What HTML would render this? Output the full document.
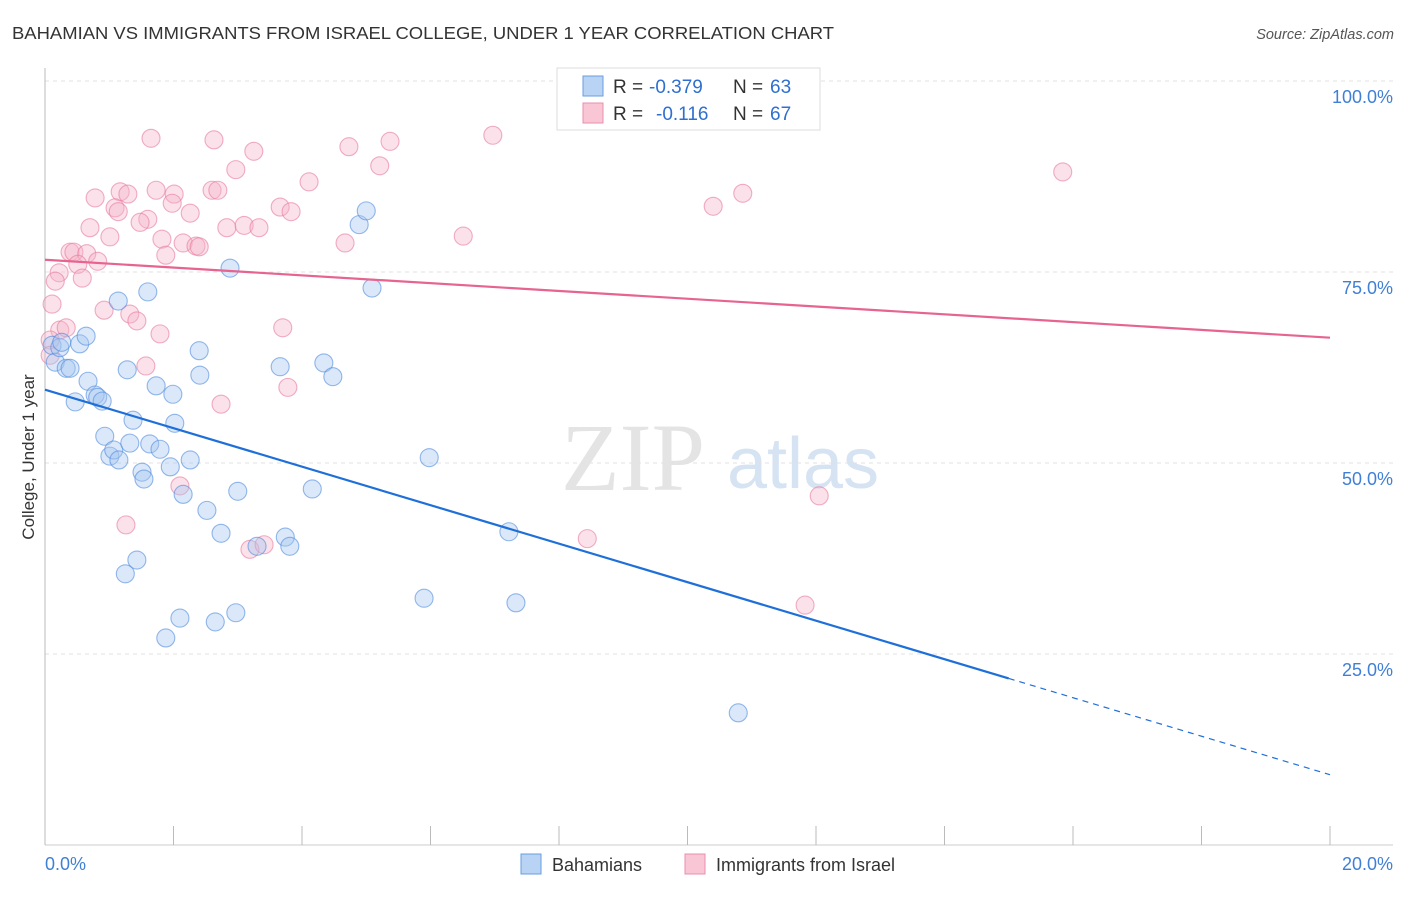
<!DOCTYPE html>
<html><head><meta charset="utf-8"><style>
body{margin:0;background:#fff;font-family:"Liberation Sans",sans-serif;}
</style></head><body>
<svg id="chart" width="1406" height="892" xmlns="http://www.w3.org/2000/svg" font-family="Liberation Sans, sans-serif">
<text x="12" y="39" font-size="17.5" fill="#333" textLength="822" lengthAdjust="spacingAndGlyphs">BAHAMIAN VS IMMIGRANTS FROM ISRAEL COLLEGE, UNDER 1 YEAR CORRELATION CHART</text>
<text x="1394" y="39" font-size="14.5" fill="#555" text-anchor="end" font-style="italic">Source: ZipAtlas.com</text>
<g>
<text x="633" y="490" font-size="96" fill="#e4e4e4" text-anchor="middle" font-family="Liberation Serif, serif">ZIP</text>
<text x="803" y="488" font-size="72" fill="#d6e3f3" text-anchor="middle">atlas</text>
</g>
<g id="grid"></g><g id="axes"></g><g id="pts"></g><g id="lines"></g>
<g>
<rect x="557" y="68" width="263" height="62" fill="#fff" stroke="#ddd"/>
<rect x="583" y="76" width="20" height="20" fill="#b8d3f3" stroke="#6a9ee0"/>
<text x="613" y="93" font-size="19" fill="#333">R =</text>
<text x="649" y="93" font-size="19" fill="#2f6fd0">-0.379</text>
<text x="733" y="93" font-size="19" fill="#333">N =</text>
<text x="770" y="93" font-size="19" fill="#2f6fd0">63</text>
<rect x="583" y="103" width="20" height="20" fill="#f8c6d5" stroke="#ea8eac"/>
<text x="613" y="120" font-size="19" fill="#333">R =</text>
<text x="656" y="120" font-size="19" fill="#2f6fd0">-0.116</text>
<text x="733" y="120" font-size="19" fill="#333">N =</text>
<text x="770" y="120" font-size="19" fill="#2f6fd0">67</text>
</g>
<g>
<rect x="521" y="854" width="20" height="20" fill="#b8d3f3" stroke="#6a9ee0"/>
<text x="552" y="871" font-size="18" fill="#333">Bahamians</text>
<rect x="685" y="854" width="20" height="20" fill="#f8c6d5" stroke="#ea8eac"/>
<text x="716" y="871" font-size="18" fill="#333">Immigrants from Israel</text>
</g>
<text transform="translate(34,457) rotate(-90)" font-size="17" fill="#333" text-anchor="middle">College, Under 1 year</text>
</svg>
<script>
const blueX=[0.11,0.16,0.23,0.26,0.33,0.39,0.47,0.54,0.64,0.67,0.78,0.82,0.89,0.93,1.01,1.07,1.14,1.15,1.28,1.32,1.37,1.43,1.25,1.51,1.54,1.60,1.63,1.73,1.79,1.88,1.95,1.99,2.02,2.10,2.15,2.26,2.40,2.41,2.52,2.65,2.74,2.88,2.97,3.00,3.30,3.66,3.74,3.81,4.16,4.34,4.48,4.89,5.00,5.09,5.98,5.90,7.22,7.33,10.79];
const blueY=[65.4,63.2,65.1,65.8,62.4,62.4,58.0,65.6,66.6,60.7,58.9,58.6,58.1,53.5,50.9,51.7,71.2,50.4,62.2,52.6,55.6,37.3,35.5,48.8,47.9,72.4,52.5,60.1,51.8,27.1,49.5,59.0,55.2,29.7,45.9,50.4,64.7,61.5,43.8,29.2,40.8,75.5,30.4,46.3,39.1,62.6,40.3,39.1,46.6,63.1,61.3,81.2,83.0,72.9,50.7,32.3,41.0,31.7,17.3];
const pinkX=[1.65,2.63,3.25,4.73,5.37,6.97,5.21,2.97,4.11,15.84,10.86,10.40,0.78,1.17,1.29,1.73,2.01,2.60,2.69,1.09,1.14,1.98,2.26,3.66,3.83,0.70,1.01,1.60,1.48,1.82,2.83,3.10,3.33,4.67,6.51,1.88,2.15,2.35,2.40,0.39,0.45,0.65,0.82,0.22,0.16,0.51,0.58,0.11,0.92,1.32,1.43,0.23,0.33,1.79,3.70,0.08,1.57,3.78,2.74,2.10,1.26,3.19,3.41,8.44,11.83,12.05,0.08];
const pinkY=[92.5,92.3,90.8,91.4,92.1,92.9,88.9,88.4,86.8,88.1,85.3,83.6,84.7,85.5,85.2,85.7,85.2,85.7,85.7,83.4,82.9,84.0,82.7,83.5,82.9,80.8,79.6,81.9,81.5,79.3,80.8,81.1,80.8,78.8,79.7,77.2,78.8,78.4,78.3,77.6,77.6,77.4,76.4,74.9,73.8,76.0,74.2,70.8,70.0,69.5,68.6,67.4,67.7,66.9,67.7,66.1,62.7,59.9,57.7,47.0,41.9,38.7,39.3,40.1,31.4,45.7,64.1];
const blueLine=[59.6,9.2], blueSolidEnd=15.0;
const pinkLine=[76.6,66.4];
const yTicks=[100,75,50,25];
const xTicks=[0,2,4,6,8,10,12,14,16,18,20];
const NS="http://www.w3.org/2000/svg";
const X=v=>45+v*64.25, Y=v=>845-v*7.64;
function mk(tag,attrs,parent){const e=document.createElementNS(NS,tag);for(const k in attrs)e.setAttribute(k,attrs[k]);document.getElementById(parent).appendChild(e);return e;}
yTicks.forEach(t=>{
 const g=mk('line',{x1:45,x2:1393,y1:Y(t),y2:Y(t),stroke:'#e2e2e2','stroke-dasharray':'4,4'},'grid');
 
 
 const l=mk('text',{x:1393,y:Y(t)+22,'font-size':18,fill:'#3f7fd6','text-anchor':'end'},'grid');
 l.textContent=t.toFixed(1)+'%';
 
 
});
const ax=mk('line',{x1:45,x2:45,y1:68,y2:845,stroke:'#bbb'},'axes');


const bx=mk('line',{x1:45,x2:1393,y1:845,y2:845,stroke:'#ccc'},'axes');


xTicks.forEach(t=>{
 const tk=mk('line',{x1:X(t),x2:X(t),y1:826,y2:845,stroke:'#bbb'},'axes');
 
 
});
[[0,'start'],[20,'end']].forEach(([t,a])=>{
 const l=mk('text',{x:t==0?45:1393,y:870,'font-size':18,fill:'#3f7fd6','text-anchor':a},'axes');
 l.textContent=t.toFixed(1)+'%';
 
 
});
function dots(xs,ys,fill,stroke,name){xs.forEach((x,i)=>{
 const c=mk('circle',{cx:X(x),cy:Y(ys[i]),r:9,fill:fill,'fill-opacity':0.4,stroke:stroke,'stroke-opacity':0.6,'stroke-width':1.1},'pts');
 
 
});}
dots(pinkX,pinkY,'#f5b3c8','#e8799c','israel-point');
dots(blueX,blueY,'#a6c6ef','#4e8ade','bahamian-point');
const yb=x=>blueLine[0]+(blueLine[1]-blueLine[0])*x/20;
const b1=mk('line',{x1:X(0),y1:Y(yb(0)),x2:X(blueSolidEnd),y2:Y(yb(blueSolidEnd)),stroke:'#1f6fd8','stroke-width':2.2},'lines');


const b2=mk('line',{x1:X(blueSolidEnd),y1:Y(yb(blueSolidEnd)),x2:X(20),y2:Y(yb(20)),stroke:'#1f6fd8','stroke-width':1.2,'stroke-dasharray':'6,5'},'lines');


const p1=mk('line',{x1:X(0),y1:Y(pinkLine[0]),x2:X(20),y2:Y(pinkLine[1]),stroke:'#e6648f','stroke-width':2.2},'lines');


</script>
</body></html>
